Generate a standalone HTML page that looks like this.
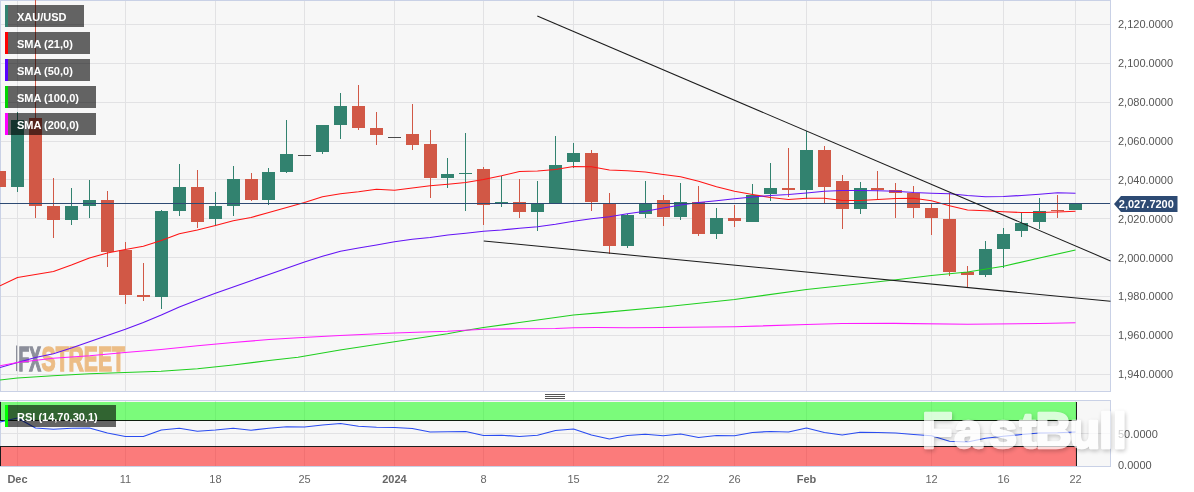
<!DOCTYPE html><html><head><meta charset="utf-8"><title>XAU/USD</title>
<style>html,body{margin:0;padding:0;background:#fff}svg{display:block}text{font-family:"Liberation Sans",Arial,sans-serif}</style></head><body>
<svg width="1194" height="492" viewBox="0 0 1194 492">
<defs><clipPath id="cm"><rect x="0" y="0" width="1111" height="392"/></clipPath><clipPath id="cr"><rect x="0" y="402" width="1111" height="64"/></clipPath><filter id="sh" x="-10%" y="-30%" width="120%" height="170%" color-interpolation-filters="sRGB"><feGaussianBlur in="SourceAlpha" stdDeviation="2.2" result="b"/><feOffset in="b" dx="1" dy="1.5" result="o"/><feComposite in="o" in2="SourceAlpha" operator="out" result="s"/><feComponentTransfer in="s" result="s2"><feFuncA type="linear" slope="0.22"/></feComponentTransfer><feComponentTransfer in="SourceGraphic" result="g"><feFuncA type="linear" slope="0.72"/></feComponentTransfer><feMerge><feMergeNode in="s2"/><feMergeNode in="g"/></feMerge></filter></defs>
<rect width="1194" height="492" fill="#fff"/>
<rect x="0" y="0" width="1111" height="392" fill="#c9d1e6"/>
<rect x="1" y="1" width="1109" height="390" fill="#f7f7f7"/>
<g shape-rendering="crispEdges" fill="#e2e2e4">
<rect x="17" y="1" width="1" height="390"/>
<rect x="125" y="1" width="1" height="390"/>
<rect x="215" y="1" width="1" height="390"/>
<rect x="304" y="1" width="1" height="390"/>
<rect x="394" y="1" width="1" height="390"/>
<rect x="483" y="1" width="1" height="390"/>
<rect x="573" y="1" width="1" height="390"/>
<rect x="663" y="1" width="1" height="390"/>
<rect x="734" y="1" width="1" height="390"/>
<rect x="806" y="1" width="1" height="390"/>
<rect x="931" y="1" width="1" height="390"/>
<rect x="1003" y="1" width="1" height="390"/>
<rect x="1075" y="1" width="1" height="390"/>
<rect x="1" y="24" width="1109" height="1"/>
<rect x="1" y="63" width="1109" height="1"/>
<rect x="1" y="102" width="1109" height="1"/>
<rect x="1" y="141" width="1109" height="1"/>
<rect x="1" y="179" width="1109" height="1"/>
<rect x="1" y="218" width="1109" height="1"/>
<rect x="1" y="257" width="1109" height="1"/>
<rect x="1" y="296" width="1109" height="1"/>
<rect x="1" y="335" width="1109" height="1"/>
<rect x="1" y="374" width="1109" height="1"/>
</g>
<rect x="16" y="345.5" width="1.2" height="25.6" fill="#8c8f9b"/>
<text transform="translate(18.5,370.6) scale(0.49,1)" font-size="36" font-weight="bold" fill="#8c8f9b" stroke="#8c8f9b" stroke-width="1.6" stroke-linejoin="miter">FX</text>
<text transform="translate(41.6,370.6) scale(0.587,1)" font-size="36" font-weight="bold" fill="#ecbd86" stroke="#ecbd86" stroke-width="1.6" stroke-linejoin="miter">STREET</text>
<g clip-path="url(#cm)">
<g shape-rendering="crispEdges">
<rect x="-1" y="165.50" width="1" height="30.80" fill="#d15846"/>
<rect x="-7" y="171.20" width="13" height="15.80" fill="#d15846"/>
<rect x="17" y="111.50" width="1" height="80.00" fill="#32826f"/>
<rect x="11" y="119.50" width="13" height="67.50" fill="#32826f"/>
<rect x="35" y="-5.00" width="1" height="223.00" fill="#d15846"/>
<rect x="29" y="117.50" width="13" height="88.50" fill="#d15846"/>
<rect x="53" y="177.50" width="1" height="60.50" fill="#d15846"/>
<rect x="47" y="206.00" width="13" height="14.00" fill="#d15846"/>
<rect x="71" y="187.50" width="1" height="37.00" fill="#32826f"/>
<rect x="65" y="206.00" width="13" height="14.00" fill="#32826f"/>
<rect x="89" y="179.50" width="1" height="38.50" fill="#32826f"/>
<rect x="83" y="200.25" width="13" height="5.75" fill="#32826f"/>
<rect x="107" y="191.25" width="1" height="75.75" fill="#d15846"/>
<rect x="101" y="200.25" width="13" height="51.50" fill="#d15846"/>
<rect x="125" y="242.00" width="1" height="62.00" fill="#d15846"/>
<rect x="119" y="249.75" width="13" height="44.75" fill="#d15846"/>
<rect x="143" y="263.00" width="1" height="38.00" fill="#d15846"/>
<rect x="137" y="294.50" width="13" height="2.50" fill="#d15846"/>
<rect x="161" y="210.00" width="1" height="99.25" fill="#32826f"/>
<rect x="155" y="211.00" width="13" height="86.00" fill="#32826f"/>
<rect x="179" y="164.25" width="1" height="51.25" fill="#32826f"/>
<rect x="173" y="187.00" width="13" height="23.75" fill="#32826f"/>
<rect x="197" y="170.00" width="1" height="57.50" fill="#d15846"/>
<rect x="191" y="187.00" width="13" height="35.00" fill="#d15846"/>
<rect x="215" y="192.00" width="1" height="33.50" fill="#32826f"/>
<rect x="209" y="206.00" width="13" height="13.00" fill="#32826f"/>
<rect x="233" y="166.25" width="1" height="49.25" fill="#32826f"/>
<rect x="227" y="179.25" width="13" height="26.75" fill="#32826f"/>
<rect x="251" y="173.00" width="1" height="27.50" fill="#d15846"/>
<rect x="245" y="179.25" width="13" height="20.25" fill="#d15846"/>
<rect x="268" y="168.00" width="1" height="36.50" fill="#32826f"/>
<rect x="262" y="172.00" width="13" height="27.50" fill="#32826f"/>
<rect x="286" y="120.00" width="1" height="53.00" fill="#32826f"/>
<rect x="280" y="154.00" width="13" height="17.75" fill="#32826f"/>
<rect x="298" y="155" width="13" height="1" fill="#4a4a4a"/>
<rect x="322" y="124.50" width="1" height="29.25" fill="#32826f"/>
<rect x="316" y="125.00" width="13" height="26.50" fill="#32826f"/>
<rect x="340" y="93.00" width="1" height="45.75" fill="#32826f"/>
<rect x="334" y="105.75" width="13" height="19.25" fill="#32826f"/>
<rect x="358" y="85.00" width="1" height="44.50" fill="#d15846"/>
<rect x="352" y="105.75" width="13" height="22.25" fill="#d15846"/>
<rect x="376" y="112.00" width="1" height="32.50" fill="#d15846"/>
<rect x="370" y="128.00" width="13" height="6.50" fill="#d15846"/>
<rect x="388" y="137" width="13" height="1" fill="#4a4a4a"/>
<rect x="412" y="104.25" width="1" height="45.25" fill="#d15846"/>
<rect x="406" y="134.00" width="13" height="10.50" fill="#d15846"/>
<rect x="430" y="129.50" width="1" height="68.75" fill="#d15846"/>
<rect x="424" y="144.25" width="13" height="33.50" fill="#d15846"/>
<rect x="447" y="158.25" width="1" height="29.25" fill="#32826f"/>
<rect x="441" y="174.00" width="13" height="3.75" fill="#32826f"/>
<rect x="465" y="133.25" width="1" height="77.50" fill="#32826f"/>
<rect x="459" y="172.50" width="13" height="1.25" fill="#32826f"/>
<rect x="483" y="167.00" width="1" height="57.50" fill="#d15846"/>
<rect x="477" y="169.00" width="13" height="35.50" fill="#d15846"/>
<rect x="501" y="176.25" width="1" height="30.50" fill="#32826f"/>
<rect x="495" y="202.00" width="13" height="2.25" fill="#32826f"/>
<rect x="519" y="179.25" width="1" height="38.25" fill="#d15846"/>
<rect x="513" y="201.75" width="13" height="10.00" fill="#d15846"/>
<rect x="537" y="180.50" width="1" height="50.75" fill="#32826f"/>
<rect x="531" y="204.00" width="13" height="7.75" fill="#32826f"/>
<rect x="555" y="136.25" width="1" height="67.00" fill="#32826f"/>
<rect x="549" y="165.00" width="13" height="38.25" fill="#32826f"/>
<rect x="573" y="143.25" width="1" height="24.75" fill="#32826f"/>
<rect x="567" y="152.50" width="13" height="9.25" fill="#32826f"/>
<rect x="591" y="149.50" width="1" height="61.00" fill="#d15846"/>
<rect x="585" y="152.75" width="13" height="49.25" fill="#d15846"/>
<rect x="609" y="193.25" width="1" height="60.50" fill="#d15846"/>
<rect x="603" y="202.50" width="13" height="43.00" fill="#d15846"/>
<rect x="627" y="214.00" width="1" height="33.50" fill="#32826f"/>
<rect x="621" y="214.50" width="13" height="31.00" fill="#32826f"/>
<rect x="645" y="180.50" width="1" height="37.00" fill="#32826f"/>
<rect x="639" y="202.50" width="13" height="11.50" fill="#32826f"/>
<rect x="663" y="195.00" width="1" height="30.75" fill="#d15846"/>
<rect x="657" y="200.00" width="13" height="16.75" fill="#d15846"/>
<rect x="680" y="183.25" width="1" height="36.25" fill="#32826f"/>
<rect x="674" y="202.00" width="13" height="14.75" fill="#32826f"/>
<rect x="698" y="186.25" width="1" height="49.25" fill="#d15846"/>
<rect x="692" y="202.00" width="13" height="31.50" fill="#d15846"/>
<rect x="716" y="208.25" width="1" height="30.50" fill="#32826f"/>
<rect x="710" y="218.25" width="13" height="15.25" fill="#32826f"/>
<rect x="734" y="205.00" width="1" height="21.75" fill="#d15846"/>
<rect x="728" y="218.25" width="13" height="3.00" fill="#d15846"/>
<rect x="752" y="184.25" width="1" height="37.50" fill="#32826f"/>
<rect x="746" y="194.50" width="13" height="27.25" fill="#32826f"/>
<rect x="770" y="163.25" width="1" height="38.00" fill="#32826f"/>
<rect x="764" y="187.50" width="13" height="6.50" fill="#32826f"/>
<rect x="788" y="148.25" width="1" height="49.00" fill="#d15846"/>
<rect x="782" y="187.50" width="13" height="2.25" fill="#d15846"/>
<rect x="806" y="131.25" width="1" height="67.75" fill="#32826f"/>
<rect x="800" y="150.00" width="13" height="39.75" fill="#32826f"/>
<rect x="824" y="145.50" width="1" height="57.50" fill="#d15846"/>
<rect x="818" y="150.00" width="13" height="37.00" fill="#d15846"/>
<rect x="842" y="175.00" width="1" height="53.75" fill="#d15846"/>
<rect x="836" y="180.50" width="13" height="28.25" fill="#d15846"/>
<rect x="860" y="182.00" width="1" height="31.75" fill="#32826f"/>
<rect x="854" y="188.00" width="13" height="20.75" fill="#32826f"/>
<rect x="877" y="170.50" width="1" height="28.25" fill="#d15846"/>
<rect x="871" y="188.00" width="13" height="1.75" fill="#d15846"/>
<rect x="895" y="182.50" width="1" height="35.75" fill="#d15846"/>
<rect x="889" y="190.00" width="13" height="3.00" fill="#d15846"/>
<rect x="913" y="185.50" width="1" height="32.75" fill="#d15846"/>
<rect x="907" y="193.25" width="13" height="15.00" fill="#d15846"/>
<rect x="931" y="204.25" width="1" height="30.25" fill="#d15846"/>
<rect x="925" y="208.25" width="13" height="10.00" fill="#d15846"/>
<rect x="949" y="193.25" width="1" height="83.00" fill="#d15846"/>
<rect x="943" y="218.75" width="13" height="53.00" fill="#d15846"/>
<rect x="967" y="265.50" width="1" height="22.00" fill="#d15846"/>
<rect x="961" y="272.00" width="13" height="2.50" fill="#d15846"/>
<rect x="985" y="241.25" width="1" height="35.50" fill="#32826f"/>
<rect x="979" y="249.25" width="13" height="25.75" fill="#32826f"/>
<rect x="1003" y="228.25" width="1" height="39.25" fill="#32826f"/>
<rect x="997" y="234.25" width="13" height="14.50" fill="#32826f"/>
<rect x="1021" y="212.50" width="1" height="24.25" fill="#32826f"/>
<rect x="1015" y="222.50" width="13" height="8.75" fill="#32826f"/>
<rect x="1039" y="197.50" width="1" height="31.25" fill="#32826f"/>
<rect x="1033" y="210.50" width="13" height="11.50" fill="#32826f"/>
<rect x="1057" y="194.50" width="1" height="23.75" fill="#d15846"/>
<rect x="1051" y="210.25" width="13" height="1.00" fill="#d15846"/>
<rect x="1075" y="202.50" width="1" height="7.50" fill="#32826f"/>
<rect x="1069" y="203.75" width="13" height="6.25" fill="#32826f"/>
</g>
<polyline fill="none" stroke="#ff1414" stroke-width="1.1" stroke-linejoin="round" points="0.00,285.75 17.50,277.50 35.48,274.50 53.45,271.50 71.43,265.00 89.40,258.00 107.38,253.00 125.35,249.50 143.33,246.25 161.30,240.50 179.33,233.75 197.37,230.00 215.40,225.50 233.22,220.75 251.04,217.50 268.86,212.50 286.68,207.50 304.50,202.50 322.50,196.75 340.50,193.75 358.50,191.75 376.50,189.25 394.50,190.25 412.30,188.00 430.10,185.75 447.90,184.25 465.70,182.50 483.50,179.50 501.50,175.75 519.50,171.50 537.50,171.00 555.50,169.50 573.50,166.50 591.45,166.75 609.40,170.00 627.35,170.75 645.30,172.00 663.25,174.50 680.60,176.75 698.57,181.25 716.53,186.75 734.50,191.25 752.50,194.50 770.50,197.50 788.50,199.50 806.50,198.25 824.36,198.25 842.21,200.50 860.07,200.50 877.93,199.50 895.79,198.50 913.64,198.25 931.50,200.75 949.50,205.75 967.50,210.00 985.50,210.75 1003.50,211.75 1021.50,212.50 1039.50,212.50 1057.50,212.00 1075.50,211.25"/>
<polyline fill="none" stroke="#6414f5" stroke-width="1.15" stroke-linejoin="round" points="0.00,367.50 17.50,362.50 35.48,357.50 53.45,353.75 71.43,348.00 89.40,341.75 107.38,335.50 125.35,329.25 143.33,322.50 161.30,315.00 179.33,307.00 197.37,300.00 215.40,293.25 233.22,287.00 251.04,280.75 268.86,274.50 286.68,268.20 304.50,262.00 322.50,256.25 340.50,251.25 358.50,248.00 376.50,245.00 394.50,241.75 412.30,239.25 430.10,237.50 447.90,235.00 465.70,233.25 483.50,231.25 501.50,230.00 519.50,228.25 537.50,226.75 555.50,224.25 573.50,221.25 591.45,218.75 609.40,216.75 627.35,213.75 645.30,211.25 663.25,208.00 680.60,205.00 698.57,202.50 716.53,200.75 734.50,198.75 752.50,197.00 770.50,195.50 788.50,194.50 806.50,193.00 824.36,191.25 842.21,190.50 860.07,190.50 877.93,190.75 895.79,191.25 913.64,192.50 931.50,193.25 949.50,193.75 967.50,195.50 985.50,196.75 1003.50,196.50 1021.50,195.50 1039.50,194.25 1057.50,192.75 1075.50,193.25"/>
<polyline fill="none" stroke="#1fcf1f" stroke-width="1.15" stroke-linejoin="round" points="0.00,380.00 17.50,378.00 53.00,375.75 89.50,373.75 125.00,372.50 161.00,371.25 197.50,368.75 233.00,365.00 269.00,360.50 298.00,357.25 340.00,350.00 394.50,341.75 447.50,333.75 465.00,330.50 483.50,327.50 519.50,322.50 555.50,317.50 573.50,315.00 596.00,313.10 663.50,307.00 734.50,299.50 806.50,289.50 860.00,283.75 894.00,280.00 931.50,275.50 967.50,272.00 1003.50,266.25 1039.50,258.00 1075.50,250.00"/>
<polyline fill="none" stroke="#ff1aff" stroke-width="1.15" stroke-linejoin="round" points="0.00,365.75 17.50,362.50 53.00,358.25 89.50,355.75 125.00,352.50 161.00,349.50 197.50,345.75 233.00,342.50 269.00,339.50 298.00,337.75 340.00,335.50 394.50,333.00 447.50,331.25 483.50,329.25 519.50,328.75 555.50,328.50 573.50,327.75 596.00,327.50 627.00,327.75 663.50,327.50 734.50,326.75 806.50,324.50 842.00,323.50 894.00,323.40 967.50,324.25 1039.50,323.50 1075.50,322.75"/>
<rect x="0" y="203" width="1110" height="1" fill="#2d4a73" shape-rendering="crispEdges"/>
<line x1="537.3" y1="16" x2="1110.5" y2="260.9" stroke="#1c1c1c" stroke-width="1.05"/>
<line x1="483.75" y1="241" x2="1110.5" y2="301.3" stroke="#1c1c1c" stroke-width="1.05"/>
</g>
<rect x="5" y="5" width="79" height="22" fill="#000" fill-opacity="0.6"/>
<rect x="5" y="5" width="3" height="22" fill="#32826f"/>
<text x="17" y="21" font-size="11" font-weight="bold" fill="#fff">XAU/USD</text>
<rect x="5" y="32" width="85" height="22" fill="#000" fill-opacity="0.6"/>
<rect x="5" y="32" width="3" height="22" fill="#ff0000"/>
<text x="17" y="48" font-size="11" font-weight="bold" fill="#fff">SMA (21,0)</text>
<rect x="5" y="59" width="85" height="22" fill="#000" fill-opacity="0.6"/>
<rect x="5" y="59" width="3" height="22" fill="#5a00ff"/>
<text x="17" y="75" font-size="11" font-weight="bold" fill="#fff">SMA (50,0)</text>
<rect x="5" y="86" width="91" height="22" fill="#000" fill-opacity="0.6"/>
<rect x="5" y="86" width="3" height="22" fill="#00d400"/>
<text x="17" y="102" font-size="11" font-weight="bold" fill="#fff">SMA (100,0)</text>
<rect x="5" y="113" width="91" height="22" fill="#000" fill-opacity="0.6"/>
<rect x="5" y="113" width="3" height="22" fill="#ff00ff"/>
<text x="17" y="129" font-size="11" font-weight="bold" fill="#fff">SMA (200,0)</text>
<text x="1118" y="28.20" font-size="11" fill="#555">2,120.0000</text>
<text x="1118" y="67.09" font-size="11" fill="#555">2,100.0000</text>
<text x="1118" y="105.98" font-size="11" fill="#555">2,080.0000</text>
<text x="1118" y="144.87" font-size="11" fill="#555">2,060.0000</text>
<text x="1118" y="183.76" font-size="11" fill="#555">2,040.0000</text>
<text x="1118" y="222.65" font-size="11" fill="#555">2,020.0000</text>
<text x="1118" y="261.54" font-size="11" fill="#555">2,000.0000</text>
<text x="1118" y="300.43" font-size="11" fill="#555">1,980.0000</text>
<text x="1118" y="339.32" font-size="11" fill="#555">1,960.0000</text>
<text x="1118" y="378.21" font-size="11" fill="#555">1,940.0000</text>
<path d="M1114,204 L1121,196 H1177.5 V212 H1121 Z" fill="#2d4a73"/>
<text x="1118.8" y="208" font-size="11" font-weight="bold" fill="#fff">2,027.7200</text>
<g shape-rendering="crispEdges" fill="#555"><rect x="545" y="394" width="20" height="1"/><rect x="545" y="396" width="20" height="1"/><rect x="545" y="398" width="20" height="1"/></g>
<rect x="0" y="400" width="1111" height="67" fill="#c9d1e6"/>
<rect x="1" y="401" width="1109" height="65" fill="#f7f7f7"/>
<g shape-rendering="crispEdges" fill="#e2e2e4">
<rect x="17" y="401" width="1" height="65"/>
<rect x="125" y="401" width="1" height="65"/>
<rect x="215" y="401" width="1" height="65"/>
<rect x="304" y="401" width="1" height="65"/>
<rect x="394" y="401" width="1" height="65"/>
<rect x="483" y="401" width="1" height="65"/>
<rect x="573" y="401" width="1" height="65"/>
<rect x="663" y="401" width="1" height="65"/>
<rect x="734" y="401" width="1" height="65"/>
<rect x="806" y="401" width="1" height="65"/>
<rect x="931" y="401" width="1" height="65"/>
<rect x="1003" y="401" width="1" height="65"/>
<rect x="1075" y="401" width="1" height="65"/>
<rect x="1" y="433" width="1109" height="1" />
</g>
<g clip-path="url(#cr)" shape-rendering="crispEdges">
<rect x="0.5" y="395.5" width="1075.5" height="25" fill="#00ff00" fill-opacity="0.5" stroke="#000" stroke-opacity="0.88" stroke-width="1"/>
<rect x="0.5" y="446.5" width="1075.5" height="30" fill="#ff0000" fill-opacity="0.5" stroke="#000" stroke-opacity="0.88" stroke-width="1"/>
</g>
<polyline fill="none" stroke="#2a4cf0" stroke-width="1.2" stroke-linejoin="round" points="0.00,422.00 17.50,418.00 35.48,428.00 53.45,429.25 71.43,428.25 89.40,428.00 107.38,433.00 125.35,436.50 143.33,436.50 161.30,430.00 179.33,428.25 197.37,431.25 215.40,430.00 233.22,428.25 251.04,430.25 268.86,428.25 286.68,426.75 304.50,427.00 322.50,425.00 340.50,423.50 358.50,426.25 376.50,427.25 394.50,427.50 412.30,428.50 430.10,432.00 447.90,431.75 465.70,431.50 483.50,435.50 501.50,435.25 519.50,436.50 537.50,435.25 555.50,430.50 573.50,429.00 591.45,435.00 609.40,439.00 627.35,435.50 645.30,434.25 663.25,435.75 680.60,434.00 698.57,437.50 716.53,435.50 734.50,435.75 752.50,432.50 770.50,431.50 788.50,432.00 806.50,428.00 824.36,432.50 842.21,435.00 860.07,432.25 877.93,432.50 895.79,433.00 913.64,434.50 931.50,435.75 949.50,441.25 967.50,442.00 985.50,438.25 1003.50,436.25 1021.50,434.50 1039.50,433.00 1057.50,432.75 1075.50,432.00"/>
<rect x="5" y="405" width="111" height="22" fill="#000" fill-opacity="0.6"/>
<rect x="5" y="405" width="3" height="22" fill="#00ff00"/>
<text x="17" y="421" font-size="11" font-weight="bold" fill="#fff">RSI (14,70,30,1)</text>
<text x="1118" y="438" font-size="11" fill="#555">50.0000</text>
<text x="1118" y="468.7" font-size="11" fill="#555">0.0000</text>
<text x="17.5" y="483" font-size="11" text-anchor="middle" fill="#666" font-weight="bold">Dec</text>
<text x="125.4" y="483" font-size="11" text-anchor="middle" fill="#666">11</text>
<text x="215.4" y="483" font-size="11" text-anchor="middle" fill="#666">18</text>
<text x="304.5" y="483" font-size="11" text-anchor="middle" fill="#666">25</text>
<text x="394.5" y="483" font-size="11" text-anchor="middle" fill="#666" font-weight="bold">2024</text>
<text x="483.5" y="483" font-size="11" text-anchor="middle" fill="#666">8</text>
<text x="573.5" y="483" font-size="11" text-anchor="middle" fill="#666">15</text>
<text x="663.2" y="483" font-size="11" text-anchor="middle" fill="#666">22</text>
<text x="734.5" y="483" font-size="11" text-anchor="middle" fill="#666">26</text>
<text x="806.5" y="483" font-size="11" text-anchor="middle" fill="#666" font-weight="bold">Feb</text>
<text x="931.5" y="483" font-size="11" text-anchor="middle" fill="#666">12</text>
<text x="1003.5" y="483" font-size="11" text-anchor="middle" fill="#666">16</text>
<text x="1075.5" y="483" font-size="11" text-anchor="middle" fill="#666">22</text>
<text x="922.0 954.2 989.2 1019.5 1035.5 1069.7 1099.0 1112.8" y="447.5" font-size="50" font-weight="bold" fill="#fff" stroke="#fff" stroke-width="2.6" stroke-linejoin="round" filter="url(#sh)">FastBull</text>
</svg></body></html>
